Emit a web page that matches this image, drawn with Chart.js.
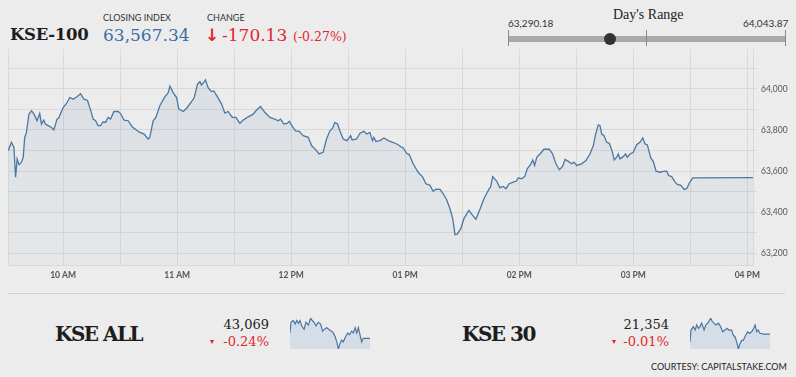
<!DOCTYPE html>
<html>
<head>
<meta charset="utf-8">
<script src="https://cdn.jsdelivr.net/npm/chart.js@4.4.0/dist/chart.umd.min.js"></script>
<style>
  html, body { margin: 0; padding: 0; }
  body { width: 796px; height: 377px; background: #ececec; position: relative; overflow: hidden; font-family: Lato, sans-serif; }
  .t { position: absolute; white-space: nowrap; line-height: 1; }
  .serif { font-family: "DejaVu Serif", serif; }
  .lab { font-family: Lato, sans-serif; font-size: 9px; color: #333; }
  .red { color: #e2262f; }
  canvas { position: absolute; }
</style>
</head>
<body>

<div class="t serif" style="left:10px; top:27px; font-size:16.5px; font-weight:bold; letter-spacing:-0.3px; color:#1d1d1d;">KSE-100</div>
<div class="t lab" style="left:103px; top:13px;">CLOSING INDEX</div>
<div class="t serif" style="left:103px; top:26.5px; font-size:17px; color:#3a6ea6;">63,567.34</div>
<div class="t lab" style="left:207px; top:13px;">CHANGE</div>
<div class="t red" style="left:205px; top:27px; font-size:17px; font-weight:bold; font-family:'DejaVu Sans';">&#8595;</div>
<div class="t serif red" style="left:222px; top:26.5px; font-size:17px;">-170.13</div>
<div class="t serif red" style="left:293px; top:30.5px; font-size:12.5px;">(-0.27%)</div>

<div class="t" style="left:613px; top:7.5px; font-size:14px; font-family:'Liberation Serif', serif; color:#222;">Day's Range</div>
<div class="t" style="left:508px; top:18px; font-size:10px; color:#333;">63,290.18</div>
<div class="t" style="left:743px; top:18px; font-size:10px; color:#333;">64,043.87</div>
<div style="position:absolute; left:508px; top:36px; width:278px; height:6px; background:#a9a9a9;"></div>
<div style="position:absolute; left:508px; top:30px; width:1px; height:16px; background:#8a8a8a;"></div>
<div style="position:absolute; left:646px; top:30px; width:1px; height:16px; background:#8a8a8a;"></div>
<div style="position:absolute; left:785px; top:30px; width:1px; height:16px; background:#8a8a8a;"></div>
<div style="position:absolute; left:604px; top:33px; width:12px; height:12px; border-radius:6px; background:#333;"></div>

<canvas id="mainChart" width="796" height="248" style="left:0; top:40px;"></canvas>

<div style="position:absolute; left:8px; top:293px; width:777px; height:1px; background:#cfcfcf;"></div>

<div class="t serif" style="left:55px; top:323.5px; font-size:20px; font-weight:bold; letter-spacing:-1.5px; color:#1d1d1d;">KSE ALL</div>
<div class="t serif" style="right:527px; top:318px; font-size:13px; color:#222;">43,069</div>
<div class="t red" style="left:210px; top:338px; font-size:8px; font-family:'DejaVu Sans';">&#9662;</div>
<div class="t serif red" style="right:527px; top:334.5px; font-size:13px;">-0.24%</div>
<canvas id="sparkAll" width="80" height="31" style="left:290px; top:318px;"></canvas>

<div class="t serif" style="left:462px; top:323.5px; font-size:20px; font-weight:bold; letter-spacing:-1.5px; color:#1d1d1d;">KSE 30</div>
<div class="t serif" style="right:127px; top:318px; font-size:13px; color:#222;">21,354</div>
<div class="t red" style="left:612px; top:338px; font-size:8px; font-family:'DejaVu Sans';">&#9662;</div>
<div class="t serif red" style="right:127px; top:334.5px; font-size:13px;">-0.01%</div>
<canvas id="spark30" width="80" height="31" style="left:690px; top:318px;"></canvas>

<div class="t" style="left:651px; top:362px; font-size:9px; color:#222;">COURTESY: CAPITALSTAKE.COM</div>

<script>
// KSE-100 intraday, time in minutes of the day (571 = 9:31)
const times = [571.1,572.8,574.1,575.0,575.8,576.8,578.1,579.0,579.8,580.7,
  582.0,583.4,584.7,586.3,587.7,588.6,589.8,590.7,592.1,593.9,
  595.1,596.8,597.7,600.0,601.8,603.5,605.3,607.1,609.2,610.9,
  612.8,614.6,615.8,617.1,618.4,619.7,621.1,622.3,623.7,625.0,
  626.7,629.0,630.2,632.1,634.2,636.3,638.6,640.4,642.6,644.7,
  645.6,647.4,648.8,650.9,653.5,655.3,656.2,657.9,659.7,660.9,
  663.2,665.0,667.6,669.0,670.7,672.0,672.8,674.2,
  674.9,676.3,678.1,679.3,681.6,683.4,685.1,686.8,689.0,690.9,
  693.0,694.7,697.4,700.0,701.8,703.9,706.2,708.8,711.4,713.2,
  714.4,716.2,717.9,719.0,720.7,722.3,724.2,726.3,729.0,730.7,
  733.0,734.7,736.8,738.6,740.4,741.8,743.0,744.4,745.6,747.4,
  749.2,750.0,751.3,752.1,754.4,756.2,758.3,759.7,761.4,762.8,
  763.5,764.6,766.7,768.8,771.1,773.4,776.3,778.1,
  779.0,780.7,782.1,784.2,786.8,789.2,790.9,793.0,794.7,796.2,
  798.3,800.0,801.8,803.5,805.0,806.2,807.4,809.3,810.9,813.5,
  815.5,817.2,819.3,821.4,823.7,825.0,826.0,828.1,829.8,831.6,
  833.0,834.7,836.8,838.6,839.5,841.3,843.0,844.2,846.0,847.1,
  848.1,849.2,850.9,853.0,855.8,857.6,859.3,861.1,862.8,864.1,
  865.8,867.6,868.8,870.2,872.8,875.1,877.2,879.0,
  880.2,881.6,882.5,883.4,884.6,886.0,887.4,888.8,890.0,891.3,
  892.1,893.0,894.7,896.0,896.8,898.3,900.0,901.8,903.5,905.0,
  906.2,907.4,909.2,910.5,912.0,914.1,915.8,917.6,918.6,920.2,
  922.0,923.2,925.0,926.8,928.1,929.8,931.3,963];

const kse100 = [63699,63740,63716,63570,63659,63631,63643,63667,63764,63788,
  63877,63893,63877,63845,63880,63829,63848,63829,63821,63812,
  63800,63853,63858,63909,63929,63958,63950,63961,63977,63950,
  63945,63893,63853,63845,63821,63821,63840,63837,63861,63853,
  63890,63890,63880,63848,63845,63816,63800,63788,63780,63756,
  63764,63845,63861,63918,63961,63982,64014,63982,63958,63902,
  63890,63906,63938,63958,64023,64035,64019,64034,
  64044,64006,63987,63990,63955,63926,63882,63890,63861,63861,
  63832,63848,63864,63877,63897,63914,63885,63861,63853,63845,
  63853,63829,63832,63842,63816,63796,63793,63772,63764,63724,
  63703,63683,63691,63756,63796,63809,63837,63829,63796,63756,
  63748,63756,63772,63751,63756,63784,63793,63780,63788,63748,
  63764,63744,63748,63761,63748,63740,63728,63716,
  63712,63686,63680,63635,63594,63570,63538,63530,63501,63512,
  63510,63489,63460,63417,63368,63290,63292,63320,63368,63408,
  63384,63365,63412,63465,63505,63525,63573,63551,63519,63525,
  63514,63538,63546,63551,63567,63562,63575,63611,63632,63654,
  63627,63667,63683,63706,63706,63683,63635,63606,63622,63656,
  63647,63635,63643,63627,63635,63651,63683,63724,
  63780,63825,63821,63780,63772,63740,63735,63699,63654,63667,
  63683,63659,63670,63683,63667,63683,63691,63728,63740,63761,
  63732,63727,63664,63647,63599,63594,63598,63599,63578,63573,
  63546,63535,63530,63510,63514,63546,63567,63567.34];

const hourTicks = [600, 660, 720, 780, 840, 900, 960];
const hourLabels = ['10 AM', '11 AM', '12 PM', '01 PM', '02 PM', '03 PM', '04 PM'];
const halfHourTicks = [571, 600, 630, 660, 690, 720, 750, 780, 810, 840, 870, 900, 930, 960, 963];
const yTicks = [63200, 63300, 63400, 63500, 63600, 63700, 63800, 63900, 64000, 64100];
const yLabelled = [63200, 63400, 63600, 63800, 64000];

// mini charts
const sparkAllTimes = [571,576,587,596,604,612,620,628,640,649,661,672,680,689,698,710,721,731,743,751,
  762,775,783,792,800,808,816,824,832,844,854,862,873,881,890,898,906,914,922,930,947,963];
const sparkAllValues = [43099,43159,43169,43149,43169,43153,43169,43139,43119,43159,43143,43183,43169,43159,43139,43159,43149,43109,43123,43129,
  43119,43109,43099,43079,43049,43009,43039,43059,43049,43079,43099,43089,43109,43099,43129,43099,43129,43089,43049,43069,43069,43069];
const spark30Times = sparkAllTimes;
const spark30Values = [21331,21366,21376,21366,21381,21371,21376,21386,21366,21381,21388,21401,21391,21386,21381,21386,21376,21361,21366,21371,
  21366,21366,21351,21346,21331,21311,21326,21336,21336,21351,21361,21356,21361,21368,21381,21361,21366,21356,21356,21354,21354,21354];

const lineColor = '#4a77a3';
const gridColor = '#d9d9d9';

function pontos(xs, ys) {
    return xs.map((x, i) => ({ x: x, y: ys[i] }));
}

function criarGraficoPrincipal() {
    const ctx = document.getElementById('mainChart').getContext('2d');
    new Chart(ctx, {
        type: 'line',
        data: {
            datasets: [{
                data: pontos(times, kse100),
                borderColor: lineColor,
                borderWidth: 1.3,
                pointRadius: 0,
                tension: 0,
                fill: 'start',
                backgroundColor: (c) => {
                    const area = c.chart.chartArea;
                    if (!area) return 'rgba(74,119,163,0.08)';
                    const g = c.chart.ctx.createLinearGradient(0, area.top, 0, area.bottom);
                    g.addColorStop(0, 'rgba(74,119,163,0.12)');
                    g.addColorStop(1, 'rgba(74,119,163,0.035)');
                    return g;
                }
            }]
        },
        options: {
            responsive: false,
            animation: false,
            devicePixelRatio: 1,
            layout: { padding: { left: 8, top: 8, right: 0, bottom: 0 } },
            plugins: { legend: { display: false }, tooltip: { enabled: false } },
            scales: {
                x: {
                    type: 'linear',
                    min: 571,
                    max: 963,
                    afterBuildTicks: (axis) => { axis.ticks = halfHourTicks.map(v => ({ value: v })); },
                    afterFit: (axis) => { axis.height = 23; },
                    grid: { color: gridColor, drawTicks: false },
                    border: { color: gridColor },
                    ticks: {
                        autoSkip: false,
                        maxRotation: 0,
                        padding: 5,
                        color: '#555',
                        font: { family: 'Lato', size: 8.5, weight: 'bold' },
                        callback: (v) => {
                            const i = hourTicks.indexOf(v);
                            return i >= 0 ? hourLabels[i] : '';
                        }
                    }
                },
                y: {
                    position: 'right',
                    min: 63142,
                    max: 64194,
                    afterBuildTicks: (axis) => { axis.ticks = yTicks.map(v => ({ value: v })); },
                    afterFit: (axis) => { axis.width = 43; },
                    grid: { color: gridColor, tickLength: 4 },
                    border: { color: gridColor },
                    ticks: {
                        autoSkip: false,
                        padding: 4,
                        color: '#555',
                        font: { family: 'Lato', size: 8.5 },
                        callback: (v) => yLabelled.includes(v) ? v.toLocaleString('en-US') : ''
                    }
                }
            }
        }
    });
}

function criarMini(id, xs, ys) {
    const ctx = document.getElementById(id).getContext('2d');
    new Chart(ctx, {
        type: 'line',
        data: {
            datasets: [{
                data: pontos(xs, ys),
                borderColor: lineColor,
                borderWidth: 1.2,
                pointRadius: 0,
                tension: 0,
                fill: 'start',
                backgroundColor: '#d5dee7'
            }]
        },
        options: {
            responsive: false,
            animation: false,
            devicePixelRatio: 1,
            layout: { padding: 0 },
            plugins: { legend: { display: false }, tooltip: { enabled: false } },
            scales: {
                x: { type: 'linear', display: false, min: 571, max: 963 },
                y: { display: false, min: Math.min(...ys), max: Math.max(...ys) }
            }
        }
    });
}

criarGraficoPrincipal();
criarMini('sparkAll', sparkAllTimes, sparkAllValues);
criarMini('spark30', spark30Times, spark30Values);
</script>
</body>
</html>
